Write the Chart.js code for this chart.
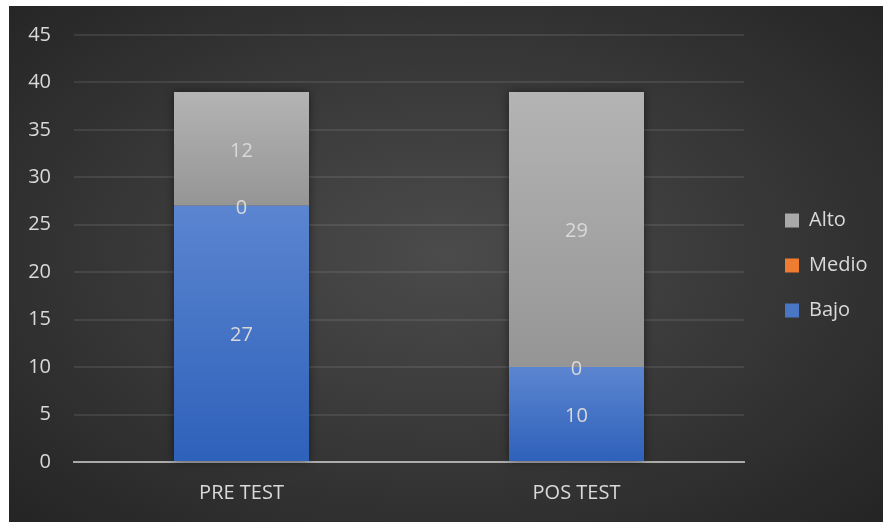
<!DOCTYPE html>
<html>
<head>
<meta charset="utf-8">
<script src="https://cdn.jsdelivr.net/npm/chart.js@4"></script>
<style>
  html, body { margin: 0; padding: 0; background: #fff; }
  #panel {
    position: absolute; left: 9px; top: 6px; width: 874px; height: 516px;
    background: radial-gradient(ellipse at 50% 48%, #4b4b4b 0%, #3a3a3a 45%, #242424 100%);
  }
</style>
</head>
<body>
<div id="panel"><canvas id="chart"></canvas></div>
<script>
// ---------- DATA ----------

const categories = ["PRE TEST", "POS TEST"];
const bajo = [27, 10];
const medio = [0, 0];
const alto = [12, 29];

const yMin = 0;
const yMax = 45;
const yStep = 5;

// ---------- STYLE ----------

const textColor = "#d9d9d9";
const fontFamily = "'Open Sans', sans-serif";
const fontSize = 20;
const legendColors = ["#4a76c6", "#ee7d31", "#a9a9a9"];
const legendWidth = 139;
const legendShiftX = 16;
const legendShiftY = -13;

// vertical gradient spanning one stacked segment
function segmentFill(topColor, bottomColor, solid) {
  return ctx => {
    const chart = ctx.chart;
    if (!chart.chartArea || ctx.type !== "data") return solid;
    const y = chart.scales.y;
    const i = ctx.dataIndex;
    let start = 0;
    for (let k = 0; k < ctx.datasetIndex; k++) start += chart.data.datasets[k].data[i];
    const end = start + chart.data.datasets[ctx.datasetIndex].data[i];
    const y0 = y.getPixelForValue(end);
    const y1 = y.getPixelForValue(start);
    if (y1 - y0 < 1) return solid;
    const g = chart.ctx.createLinearGradient(0, y0, 0, y1);
    g.addColorStop(0, topColor);
    g.addColorStop(1, bottomColor);
    return g;
  };
}

// fixed legend column, items nudged right of the plot and centred on the panel
const legendPlacement = {
  id: "legendPlacement",
  beforeLayout(chart) {
    const lg = chart.legend;
    if (lg && !lg._fixedFit) {
      const fit = lg.fit;
      lg.fit = function () { fit.call(this); this.width = legendWidth; };
      lg._fixedFit = true;
    }
  },
  afterLayout(chart) {
    const lg = chart.legend;
    lg.left += legendShiftX;
    lg.top += legendShiftY;
    lg.bottom += legendShiftY;
  }
};

// soft shadow behind each full column
const columnShadow = {
  id: "columnShadow",
  beforeDatasetsDraw(chart) {
    const ctx = chart.ctx;
    const first = chart.getDatasetMeta(0).data;
    ctx.save();
    ctx.shadowColor = "rgba(0,0,0,0.55)";
    ctx.shadowBlur = 9;
    ctx.fillStyle = "#3a3a3a";
    first.forEach((el, i) => {
      let top = el.y;
      chart.data.datasets.forEach((ds, d) => {
        top = Math.min(top, chart.getDatasetMeta(d).data[i].y);
      });
      ctx.fillRect(el.x - el.width / 2, top, el.width, el.base - top);
    });
    ctx.restore();
  }
};

// value labels centred in each segment
const segmentLabels = {
  id: "segmentLabels",
  afterDatasetsDraw(chart) {
    const ctx = chart.ctx;
    ctx.save();
    ctx.font = fontSize + "px " + fontFamily;
    ctx.fillStyle = textColor;
    ctx.textAlign = "center";
    ctx.textBaseline = "middle";
    chart.data.datasets.forEach((ds, d) => {
      chart.getDatasetMeta(d).data.forEach((el, i) => {
        ctx.fillText(String(ds.data[i]), el.x, (el.y + el.base) / 2 + 2);
      });
    });
    ctx.restore();
  }
};

// ---------- CHART ----------

const chart = new Chart(document.getElementById("chart"), {
  type: "bar",
  data: {
    labels: categories,
    datasets: [
      { label: "Bajo", data: bajo, backgroundColor: segmentFill("#5b85d0", "#2e61ba", "#4472c4") },
      { label: "Medio", data: medio, backgroundColor: segmentFill("#f59a5a", "#d8691f", "#ed7d31") },
      { label: "Alto", data: alto, backgroundColor: segmentFill("#b4b4b4", "#959595", "#a5a5a5") }
    ]
  },
  options: {
    responsive: true,
    maintainAspectRatio: false,
    animation: false,
    barPercentage: 0.403,
    categoryPercentage: 1,
    layout: { padding: { top: 29, right: 0, bottom: 0, left: 0 } },
    plugins: {
      tooltip: { enabled: false },
      legend: {
        position: "right",
        reverse: true,
        labels: {
          color: textColor,
          font: { family: fontFamily, size: fontSize },
          boxWidth: 14,
          boxHeight: 14,
          padding: 25,
          generateLabels: c => Chart.defaults.plugins.legend.labels.generateLabels(c).map(item => ({
            ...item,
            fillStyle: legendColors[item.datasetIndex],
            strokeStyle: "rgba(0,0,0,0)",
            lineWidth: 0
          }))
        }
      }
    },
    scales: {
      x: {
        stacked: true,
        z: 1,
        grid: { display: false, drawTicks: false },
        border: { display: true, color: "rgba(217,217,217,0.7)", width: 2 },
        ticks: { color: textColor, font: { family: fontFamily, size: fontSize }, padding: 19 },
        afterFit: s => { s.height = 60; }
      },
      y: {
        stacked: true,
        min: yMin,
        max: yMax,
        ticks: { stepSize: yStep, color: textColor, font: { family: fontFamily, size: fontSize }, padding: 23 },
        grid: { color: "rgba(255,255,255,0.09)", lineWidth: 2, drawTicks: false },
        border: { display: false },
        afterFit: s => {
          s.width = 65;
          s.paddingTop = 0;
          s.paddingBottom = 0;
        }
      }
    }
  },
  plugins: [legendPlacement, columnShadow, segmentLabels]
});
</script>
</body>
</html>
